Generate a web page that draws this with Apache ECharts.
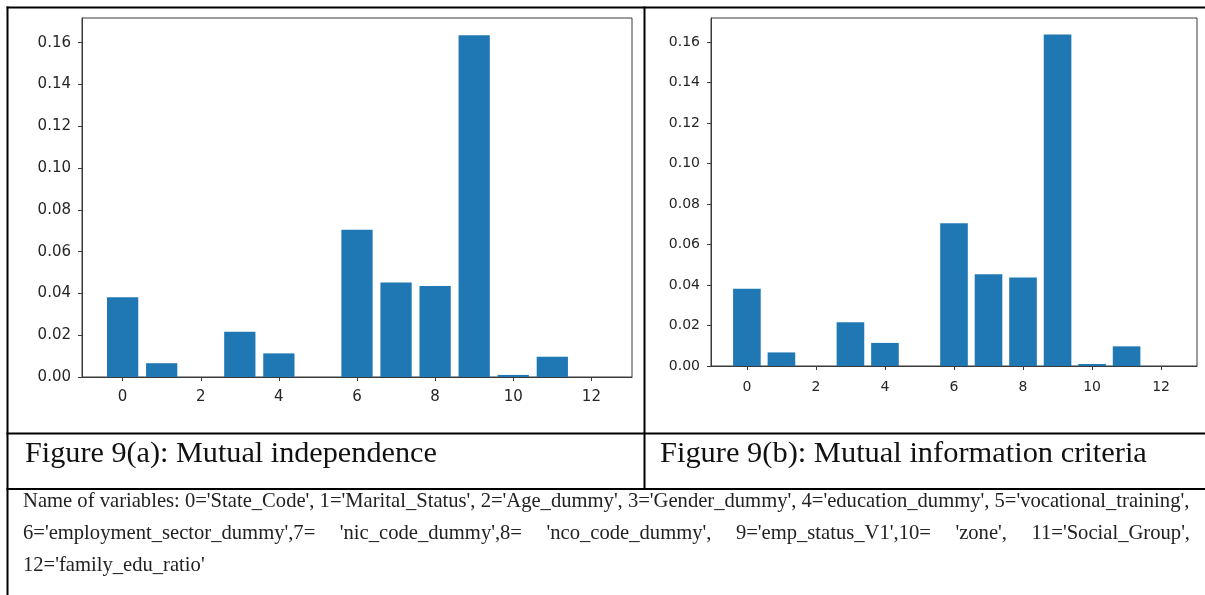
<!DOCTYPE html>
<html><head><meta charset="utf-8">
<script src="https://cdn.jsdelivr.net/npm/echarts@6/dist/echarts.min.js"></script>
<style>html,body{margin:0;padding:0;background:#fff;}#c{width:1205px;height:595px;}</style>
</head><body><div id="c"></div>
<script>
// ---- data ----
var positions = [0,1,2,3,4,5,6,7,8,9,10,11,12];
var valuesA = [0.0382, 0.0066, 0, 0.0216, 0.0113, 0, 0.0705, 0.0452, 0.0436, 0.1636, 0.0010, 0.0097, 0];
var valuesB = [0.0381, 0.0067, 0, 0.0216, 0.0114, 0, 0.0705, 0.0453, 0.0437, 0.1636, 0.0010, 0.0097, 0];
var xTicks = [0,2,4,6,8,10,12];
var yTicks = [0,0.02,0.04,0.06,0.08,0.10,0.12,0.14,0.16];
var captionA = 'Figure 9(a): Mutual independence';
var captionB = 'Figure 9(b): Mutual information criteria';
var noteLine1 = "Name of variables: 0='State_Code', 1='Marital_Status', 2='Age_dummy', 3='Gender_dummy', 4='education_dummy', 5='vocational_training',";
var noteLine2 = ["6='employment_sector_dummy',7=", "'nic_code_dummy',8=", "'nco_code_dummy',", "9='emp_status_V1',10=", "'zone',", "11='Social_Group',"];
var noteLine3 = "12='family_edu_ratio'";

// ---- layout ----
var SERIF = '"Liberation Serif", "DejaVu Serif", serif';
var ctx = document.createElement('canvas').getContext('2d');
function measure(text, fs) { ctx.font = fs + 'px ' + SERIF; return ctx.measureText(text).width; }
function fitSize(text, target) { return 100 * target / measure(text, 100); }
var capA = fitSize(captionA, 412);
var capB = fitSize(captionB, 487);
var noteSize = fitSize(noteLine1, 1167);

var X_MIN = -1.04, X_MAX = 13.04, Y_MAX = 0.1718;
var grids = [
  {left: 82, top: 18, width: 550, height: 359},
  {left: 711, top: 18, width: 486, height: 348}
];
var AXC = '#3a3a3a';
function mkX(i, fs, margin) {
  return {type:'value', gridIndex:i, min:X_MIN, max:X_MAX,
    axisLine:{show:true, onZero:false, lineStyle:{color:AXC, width:1}},
    axisTick:{show:true, length:4, customValues:xTicks, lineStyle:{color:AXC}},
    axisLabel:{customValues:xTicks, color:'#262626', fontSize:fs, fontFamily:'DejaVu Sans', margin:margin},
    splitLine:{show:false}};
}
function mkY(i, fs) {
  return {type:'value', gridIndex:i, min:0, max:Y_MAX,
    axisLine:{show:true, onZero:false, lineStyle:{color:AXC, width:1}},
    axisTick:{show:true, length:4, customValues:yTicks, lineStyle:{color:AXC}},
    axisLabel:{customValues:yTicks, color:'#262626', fontSize:fs, fontFamily:'DejaVu Sans', margin:11,
      formatter:function(v){return Number(v).toFixed(2);}},
    splitLine:{show:false}};
}
function barW(g) { return 0.8 * g.width / (X_MAX - X_MIN); }
function pairs(vals) { return positions.map(function(p,i){return [p, vals[i]];}); }

var graphic = [];
function hline(y, x1, x2) { graphic.push({type:'line', shape:{x1:x1,y1:y,x2:x2,y2:y}, style:{stroke:'#000', lineWidth:2}, z:100}); }
function vline(x, y1, y2) { graphic.push({type:'line', shape:{x1:x,y1:y1,x2:x,y2:y2}, style:{stroke:'#000', lineWidth:2}, z:100}); }
hline(7.5, 6.5, 1205);
hline(433.5, 6.5, 1205);
hline(489, 6.5, 1205);
vline(7.5, 6.5, 595);
vline(644.5, 6.5, 489);
function txt(s, x, baseline, fs, color) {
  graphic.push({type:'text', x:x, y:baseline - 0.3*fs, style:{text:s, fontFamily:SERIF, fontSize:fs, fill:color, verticalAlign:'middle', align:'left'}});
}
txt(captionA, 25, 463, capA, '#111');
txt(captionB, 660, 463, capB, '#111');
txt(noteLine1, 23, 508, noteSize, '#222');
// justified second line: spread segments between x=23 and x=1190
(function(){
  var widths = noteLine2.map(function(s){ return measure(s, noteSize); });
  var total = widths.reduce(function(a,b){return a+b;}, 0);
  var gap = (1167 - total) / (noteLine2.length - 1);
  var x = 23;
  noteLine2.forEach(function(s, i){ txt(s, x, 540, noteSize, '#222'); x += widths[i] + gap; });
})();
txt(noteLine3, 23, 572, noteSize, '#222');

var chart = echarts.init(document.getElementById('c'), null, {renderer:'canvas'});
chart.setOption({
  animation:false,
  backgroundColor:'#fff',
  grid: grids.map(function(g){return {left:g.left, top:g.top, width:g.width, height:g.height, show:true, borderColor:AXC, borderWidth:1, backgroundColor:'transparent'};}),
  xAxis:[mkX(0,15,13), mkX(1,14,14)],
  yAxis:[mkY(0,15), mkY(1,14)],
  series:[
    {type:'bar', xAxisIndex:0, yAxisIndex:0, data:pairs(valuesA), barWidth:barW(grids[0]), itemStyle:{color:'#1f77b4'}},
    {type:'bar', xAxisIndex:1, yAxisIndex:1, data:pairs(valuesB), barWidth:barW(grids[1]), itemStyle:{color:'#1f77b4'}}
  ],
  graphic: graphic
});
</script></body></html>
